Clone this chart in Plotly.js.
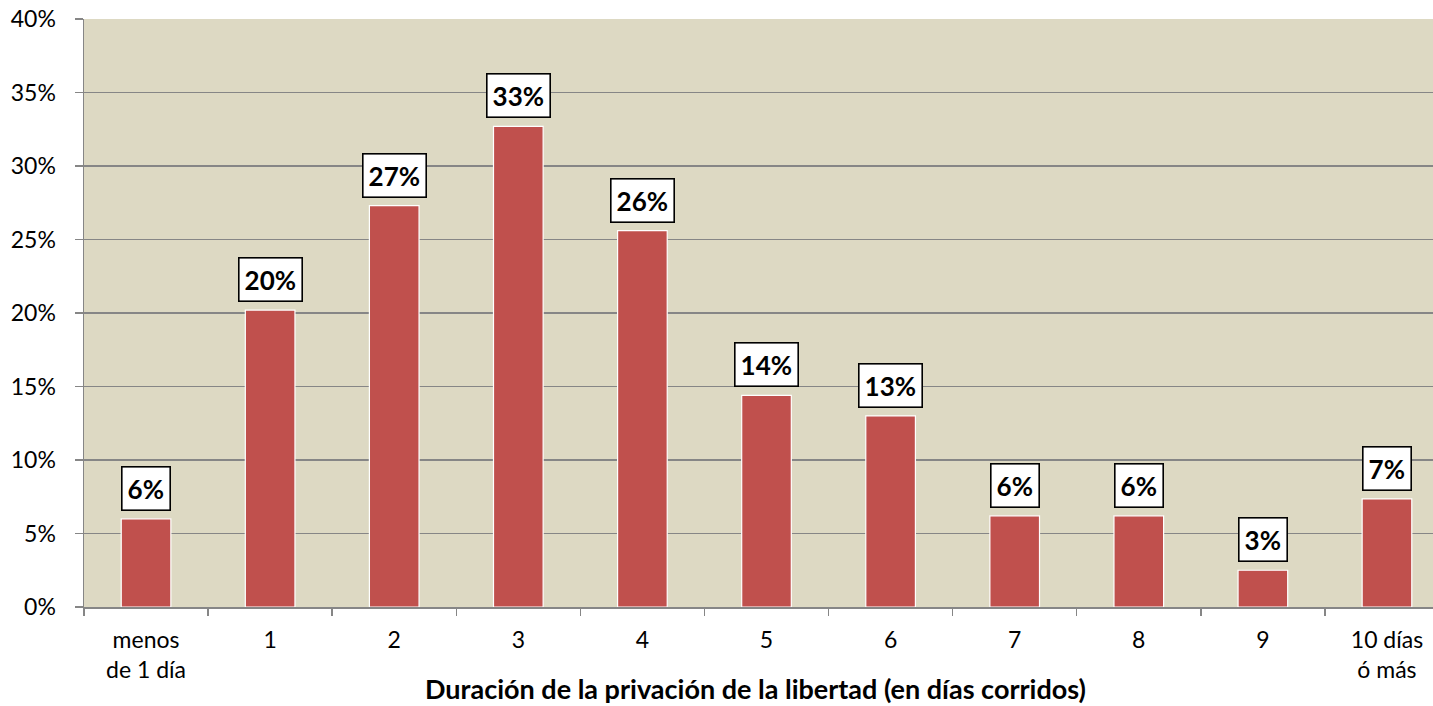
<!DOCTYPE html>
<html>
<head>
<meta charset="utf-8">
<script src="https://cdn.plot.ly/plotly-3.0.1.min.js"></script>
<style>html,body{margin:0;padding:0;overflow:hidden;background:#fff;}#chart{width:1433px;height:706px;}</style>
</head>
<body>
<div id="chart"></div>
<script>
const categories = ["menos<br>de 1 día", "1", "2", "3", "4", "5", "6", "7", "8", "9", "10 días<br>ó más"];
const values = [6.0, 20.2, 27.3, 32.7, 25.6, 14.4, 13.0, 6.2, 6.2, 2.5, 7.35];
const labels = ["6%", "20%", "27%", "33%", "26%", "14%", "13%", "6%", "6%", "3%", "7%"];
const yTickVals = [0, 5, 10, 15, 20, 25, 30, 35, 40];
const yTickText = ["0%", "5%", "10%", "15%", "20%", "25%", "30%", "35%", "40%"];
const xTitle = "Duración de la privación de la libertad (en días corridos)";

const font = "Lato, 'Noto Sans', sans-serif";

const trace = {
  type: "bar",
  x: categories,
  y: values,
  width: 0.4,
  marker: { color: "#C0504D", line: { color: "#FFFFFF", width: 1.2 } },
  hoverinfo: "none"
};

const annotations = categories.map((c, i) => ({
  x: c, y: values[i], xref: "x", yref: "y",
  text: "<b>" + labels[i] + "</b>",
  showarrow: false, yanchor: "bottom", yshift: 8,
  bgcolor: "#FFFFFF", bordercolor: "#000000", borderwidth: 1.6, borderpad: 5,
  font: { family: font, size: 26, color: "#000000" }
}));

annotations.push({
  x: 0.5, y: 0, xref: "paper", yref: "paper",
  text: "<b>" + xTitle + "</b>",
  showarrow: false, xanchor: "center", yanchor: "middle", yshift: -81, xshift: -3,
  font: { family: font, size: 27, color: "#000000" }
});

const layout = {
  width: 1433, height: 706,
  margin: { l: 84, r: 0, t: 19, b: 99, pad: 0 },
  paper_bgcolor: "#FFFFFF",
  plot_bgcolor: "#DDD9C3",
  showlegend: false,
  font: { family: font, size: 23, color: "#000000" },
  xaxis: {
    type: "category",
    range: [-0.5, 10.371],
    automargin: false,
    showline: true, linecolor: "#868686", linewidth: 1.5,
    ticks: "outside", tickson: "boundaries", ticklen: 7, tickcolor: "#868686", tickwidth: 1.5,
    showgrid: false, zeroline: false,
    tickfont: { family: font, size: 23, color: "#000000" },
    ticklabelstandoff: 12
  },
  yaxis: {
    range: [0, 40],
    automargin: false,
    tickvals: yTickVals, ticktext: yTickText,
    showline: true, linecolor: "#868686", linewidth: 1.5,
    ticks: "outside", ticklen: 8, tickcolor: "#868686", tickwidth: 1.5,
    showgrid: true, gridcolor: "#868686", gridwidth: 1.3,
    zeroline: false,
    tickfont: { family: font, size: 23, color: "#000000" },
    ticklabelstandoff: 14
  },
  annotations: annotations
};

Plotly.newPlot("chart", [trace], layout, { displayModeBar: false, staticPlot: true });
</script>
</body>
</html>
